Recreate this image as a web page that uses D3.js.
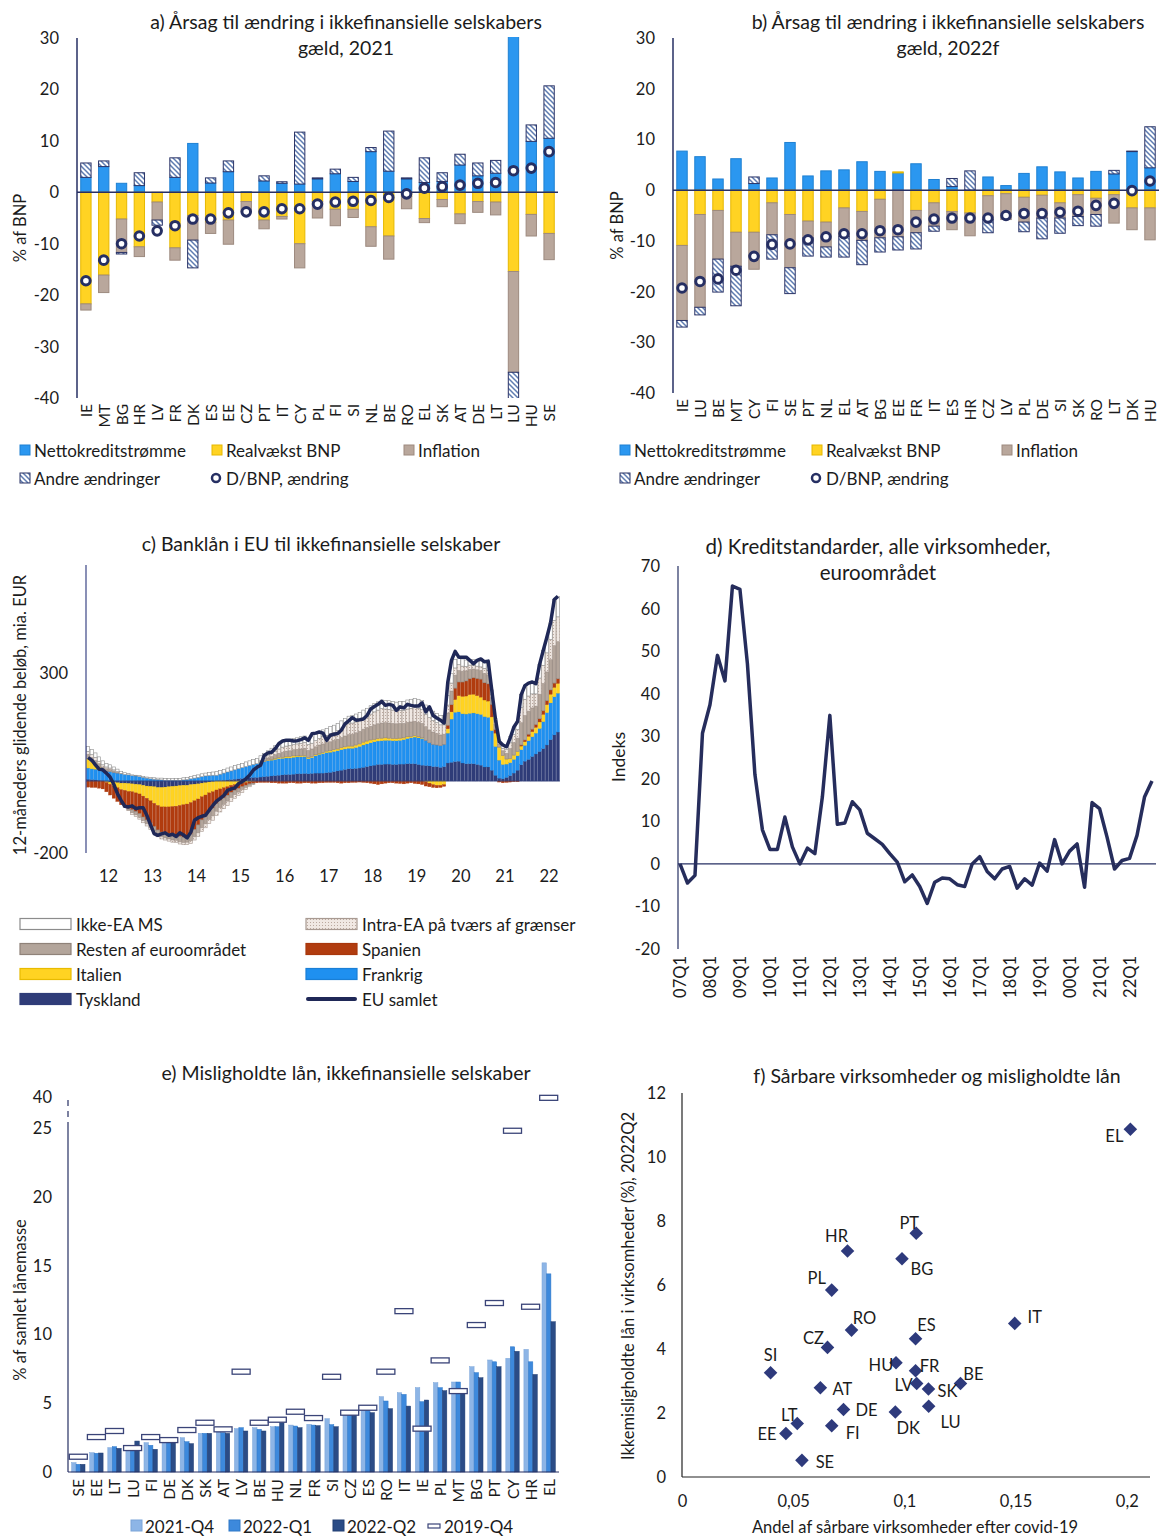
<!DOCTYPE html>
<html lang="da">
<head>
<meta charset="utf-8">
<title>Ikkefinansielle selskaber</title>
<script src="https://cdn.jsdelivr.net/npm/d3@7/dist/d3.min.js"></script>
<style>
  body { margin: 0; background: #fff; }
  svg text { font-family: Lato, "Open Sans", "DejaVu Sans", sans-serif; fill: #1b1b1b; }
</style>
</head>
<body>
<svg id="chart" width="1162" height="1539"></svg>
<script>
// ---------- a) decomposition 2021 ----------
const countriesA = ['IE','MT','BG','HR','LV','FR','DK','ES','EE','CZ','PT','IT','CY','PL','FI','SI','NL','BE','RO','EL','SK','AT','DE','LT','LU','HU','SE'];
const nettoA = [2.9,5.0,1.75,1.3,0,2.9,9.5,1.8,4.0,0.1,2.2,1.75,1.6,2.6,3.6,2.1,7.9,4.1,2.6,1.9,2.1,5.3,3.2,3.7,31,9.9,10.5];
const realA  = [-21.7,-16.1,-5.2,-10.6,-1.9,-10.8,-4.5,-5.9,-5.4,-1.8,-5.4,-4.7,-10.0,-1.8,-3.3,-3.3,-6.7,-8.5,-0.8,-5.1,-1.4,-4.2,-1.8,-1.9,-15.4,-4.3,-8.0];
const inflA  = [-1.2,-3.4,-6.5,-1.9,-3.5,-2.4,-4.8,-2.1,-4.7,-2.0,-1.7,-0.5,-4.7,-3.2,-3.2,-1.6,-3.8,-4.5,-2.4,-0.8,-1.4,-1.9,-2.1,-2.5,-19.6,-4.2,-5.1];
const andreA = [2.8,1.1,-0.3,2.5,-1.0,3.8,-5.4,1.0,2.1,0,1.0,0.3,10.1,0.2,0.9,0.8,0.8,7.8,0.2,4.8,1.7,2.1,2.5,2.5,-6,3.2,10.2];
const dgdpA  = [-17.2,-13.2,-10.0,-8.5,-7.5,-6.5,-5.2,-5.2,-4.0,-3.8,-3.8,-3.2,-3.2,-2.3,-1.9,-1.75,-1.6,-1.0,-0.3,0.8,1.1,1.4,1.75,1.9,4.2,4.7,7.9];

// ---------- b) decomposition 2022f ----------
const countriesB = ['IE','LU','BE','MT','CY','FI','SE','PT','NL','EL','AT','BG','EE','FR','IT','ES','HR','CZ','LV','PL','DE','SI','SK','RO','LT','DK','HU'];
const nettoB = [7.7,6.6,2.2,6.2,1.3,2.4,9.4,2.8,3.8,4.0,5.6,3.7,3.4,5.2,2.1,0.7,0,2.6,0.9,3.3,4.6,3.6,2.4,3.7,3.2,7.6,4.4];
const realB  = [-10.9,-4.8,-4.0,-8.3,-8.3,-2.5,-4.8,-6.1,-6.3,-3.5,-4.2,-1.8,0.2,-4.0,-2.5,-4.2,-4.5,-1.1,-0.7,-1.4,-1.0,-2.5,-0.9,-1.6,-0.9,-3.5,-3.5];
const inflB  = [-14.8,-18.3,-9.6,-6.7,-7.3,-6.3,-10.5,-3.3,-4.9,-5.6,-5.7,-7.6,-9.2,-4.4,-4.6,-3.6,-4.5,-4.7,-5.1,-4.9,-4.5,-3.0,-4.3,-3.2,-5.6,-4.3,-6.3];
const andreB = [-1.3,-1.5,-6.5,-7.8,1.3,-4.8,-5.1,-3.6,-2.0,-4.1,-4.8,-2.8,-2.6,-3.2,-1.0,1.6,3.8,-2.6,0,-1.9,-4.1,-3.0,-1.8,-2.3,0.7,0.1,8.1];
const dgdpB  = [-19.3,-18.0,-17.5,-15.8,-13.05,-10.7,-10.6,-9.8,-9.2,-8.6,-8.6,-8.0,-7.8,-6.3,-5.7,-5.5,-5.5,-5.5,-5.0,-4.6,-4.6,-4.35,-4.15,-3.0,-2.6,-0.1,1.8];
const decompTicks = [-40,-30,-20,-10,0,10,20,30];

// ---------- c) bank loans, 12-month flows, Jan 2012 - Sep 2022 ----------
const yearLabelsC = ['12','13','14','15','16','17','18','19','20','21','22'];
const tysklandC = [
  5,4,3,2,0,-2,-3,-4,-5,-6,-6,-7,
  -8,-9,-10,-12,-14,-15,-16,-18,-18,-17,-16,-15,
  -14,-13,-12,-12,-10,-9,-8,-6,-5,-3,-2,0,
  1,2,3,4,5,6,7,8,9,10,10,11,
  12,13,14,15,16,17,18,18,19,20,20,21,
  20,21,22,22,22,23,24,26,28,30,32,34,
  34,35,36,38,40,42,44,46,46,47,47,46,
  46,47,47,48,48,48,46,44,43,42,40,40,
  38,40,50,52,54,55,50,48,48,48,46,44,
  39,39,30,16,8,6,10,15,22,30,45,55,
  60,68,75,82,90,100,115,128,136];
const frankrigC = [
  31,30,30,29,28,27,26,24,22,20,18,17,
  15,14,12,10,8,6,5,4,3,2,2,2,
  2,2,3,4,6,8,10,12,14,15,16,16,
  18,20,22,24,26,28,30,32,34,36,38,40,
  42,43,44,45,46,46,46,46,47,47,47,47,
  42,44,48,52,54,56,56,56,56,57,57,57,
  57,58,60,62,63,64,65,65,66,66,66,66,
  66,66,68,70,72,74,74,74,70,64,62,60,
  60,62,83,120,137,137,137,138,140,141,141,141,
  140,138,110,80,50,40,37,36,38,40,42,44,
  52,55,58,64,75,90,102,106,108];
const italienC = [
  26,20,14,8,3,-2,-6,-10,-14,-18,-20,-22,
  -22,-24,-26,-30,-34,-40,-46,-50,-54,-55,-56,-56,
  -56,-55,-54,-52,-50,-46,-42,-38,-34,-30,-28,-25,
  -22,-19,-16,-12,-10,-8,-6,-4,-2,-1,0,1,
  1,2,2,3,3,3,4,4,4,3,3,3,
  3,3,3,3,3,4,4,5,5,6,6,6,
  6,7,7,8,8,8,7,7,7,7,6,6,
  6,6,5,5,4,4,3,2,-2,-6,-10,-12,
  -12,-10,12,20,35,45,48,50,52,52,50,48,
  46,45,38,37,36,25,14,12,12,12,10,10,
  12,14,16,18,20,22,24,26,27];
const spanienC = [
  -17,-18,-18,-20,-22,-26,-30,-34,-38,-42,-45,-48,
  -50,-52,-55,-58,-60,-62,-65,-68,-70,-72,-75,-78,
  -80,-86,-90,-90,-88,-80,-72,-64,-58,-52,-45,-38,
  -32,-28,-24,-20,-16,-13,-10,-8,-6,-5,-5,-4,
  -4,-4,-5,-5,-6,-6,-6,-5,-5,-6,-6,-5,
  -5,-6,-6,-5,-5,-4,-4,-4,-5,-6,-5,-5,
  -4,-4,-3,-4,-5,-6,-8,-10,-8,-6,-5,-5,
  -6,-7,-8,-6,-5,-7,-8,-10,-12,-10,-8,-7,
  -6,-5,10,20,32,38,40,42,44,46,48,50,
  48,48,35,10,-3,-5,-4,-3,-2,-2,3,5,
  6,7,8,9,10,11,12,12,13];
const restenC = [
  12,11,10,9,8,7,6,4,2,0,-2,-4,
  -8,-9,-10,-10,-11,-12,-12,-13,-13,-14,-14,-15,
  -15,-15,-15,-16,-18,-20,-22,-22,-22,-22,-22,-21,
  -20,-18,-16,-14,-12,-10,-8,-6,-4,-2,0,2,
  4,6,8,10,12,14,15,16,17,18,19,20,
  20,21,22,23,24,24,25,26,27,28,30,32,
  33,34,35,36,37,38,40,41,42,42,42,42,
  41,41,40,40,40,40,40,40,38,36,34,32,
  30,28,34,38,36,32,30,28,26,24,24,24,
  26,25,18,14,9,13,16,27,35,37,62,68,
  64,59,51,68,76,80,84,104,103];
const intraC = [
  8,8,8,7,6,5,4,3,2,1,0,-1,
  -5,-5,-5,-6,-6,-6,-6,-6,-6,-6,-6,-6,
  -6,-6,-6,-6,-8,-9,-10,-10,-11,-11,-12,-12,
  -12,-12,-12,-11,-10,-9,-8,-6,-4,-2,0,2,
  4,6,8,10,12,14,14,14,14,15,16,16,
  16,16,17,18,20,20,22,22,24,26,28,30,
  31,30,30,31,32,34,36,38,40,38,38,37,
  36,36,36,37,38,38,38,38,34,34,32,30,
  28,26,22,22,20,16,14,12,12,10,10,10,
  14,13,10,7,4,7,10,16,22,24,42,45,
  42,39,34,45,50,53,56,70,69];
const ikkeC = [
  14,14,13,12,11,10,9,8,7,6,5,4,
  2,2,3,3,3,4,4,4,5,5,5,5,
  5,5,6,6,6,7,7,8,8,9,9,10,
  10,10,11,11,12,12,12,13,13,14,14,14,
  14,14,15,15,16,16,16,17,17,17,18,18,
  18,18,18,19,19,19,20,20,20,20,21,21,
  21,22,22,22,22,23,23,23,24,24,24,24,
  24,25,25,25,25,25,26,26,26,26,26,26,
  26,26,26,26,24,22,20,18,16,16,16,16,
  18,18,12,9,7,10,12,17,21,22,36,38,
  36,33,28,38,42,44,47,58,57];
const euSamletC = [
  65,58,45,33,31,22,11,-9,-35,-54,-70,-72,
  -69,-77,-74,-74,-95,-121,-146,-151,-147,-144,-151,-148,
  -154,-144,-150,-158,-142,-109,-102,-98,-95,-81,-68,-56,
  -48,-40,-26,-22,-19,-7,-2,6,16,30,38,44,
  71,78,80,90,104,111,113,113,111,112,115,120,
  113,131,133,136,133,113,127,130,132,141,159,167,
  176,169,170,172,182,200,207,213,221,210,213,210,
  196,206,203,213,210,208,208,217,192,206,182,175,
  169,161,275,335,360,344,344,344,335,326,335,339,
  331,333,250,170,110,100,95,120,150,165,240,265,
  272,275,270,324,363,400,440,504,513];

// ---------- d) credit standards, quarterly 07Q1 - 22Q4 ----------
const yearLabelsD = ['07','08','09','10','11','12','13','14','15','16','17','18','19','00','21','22'];
const kreditD = [0,-4.5,-2.7,30.7,37.4,49,43,65.3,64.5,47,21,8,3.4,3.4,11,4,0,3.7,2.4,15.7,34.9,9.3,9.6,14.6,
  12.7,7.2,5.9,4.6,2.4,0.4,-4.2,-2.6,-5.3,-9.3,-4.3,-3.3,-3.5,-4.9,-5.3,0,1.7,-1.8,-3.5,-1.2,-0.6,-5.7,-3.5,-5,
  0.2,-1.7,5.7,0,3,4.7,-5.5,14.4,13,6.3,-1.2,0.8,1.3,6.7,15.7,19.5];
const ticksD = [-20,-10,0,10,20,30,40,50,60,70];

// ---------- e) NPL ratios ----------
const countriesE = ['SE','EE','LT','LU','FI','DE','DK','SK','AT','LV','BE','HU','NL','FR','SI','CZ','ES','RO','IT','IE','PL','MT','BG','PT','CY','HR','EL'];
const npl21Q4 = [0.68,1.40,1.77,1.89,2.13,2.18,2.49,2.81,2.91,3.15,3.22,3.29,3.41,3.46,3.87,4.31,4.72,5.47,5.76,6.13,6.49,6.54,7.65,8.14,8.26,8.91,15.2];
const npl22Q1 = [0.56,1.36,1.84,1.94,1.94,2.18,2.20,2.81,2.86,3.22,3.10,3.29,3.34,3.41,3.44,4.26,4.67,5.16,5.64,5.11,6.13,6.54,7.22,8.01,9.10,8.01,14.4];
const npl22Q2 = [0.56,1.38,1.72,2.25,1.65,2.13,2.06,2.81,2.81,2.98,2.98,3.58,3.22,3.37,3.29,4.19,4.31,4.60,4.79,5.23,5.91,5.88,6.85,7.65,8.77,7.09,10.92];
const npl19Q4 = [1.11,2.54,2.98,1.74,2.54,2.32,3.05,3.58,3.10,7.29,3.58,3.80,4.38,3.92,6.92,4.31,4.67,7.29,11.69,3.15,8.11,5.88,10.68,12.28,24.8,12.01,39.6];
const ticksE = [0,5,10,15,20,25,40];

// ---------- f) vulnerable firms vs NPL ----------
const countriesF = ['EL','PT','HR','BG','PL','RO','ES','IT','CZ','SI','HU','FR','LV','SK','BE','AT','DE','DK','LU','LT','FI','EE','SE'];
const vulnF = [0.2014,0.1051,0.0742,0.0987,0.0671,0.076,0.1048,0.1494,0.0652,0.0396,0.096,0.1048,0.1053,0.1106,0.125,0.062,0.0724,0.0957,0.1107,0.0516,0.0671,0.0465,0.0537];
const nplF = [10.87,7.62,7.06,6.82,5.84,4.59,4.32,4.80,4.05,3.26,3.57,3.32,2.92,2.75,2.92,2.79,2.11,2.03,2.21,1.67,1.60,1.36,0.52];

// label placement next to each diamond (dx, dy)
const labelOffsetF = {
  EL:[-16,7], PT:[-7,-10], HR:[-11,-15], BG:[20,10], PL:[-15,-12], RO:[13,-12], ES:[11,-14], IT:[20,-6],
  CZ:[-14,-9], SI:[0,-18], HU:[-15,2], FR:[14,-5], LV:[-13,1], SK:[19,2], BE:[13,-10], AT:[22,1],
  DE:[23,1], DK:[13,16], LU:[22,16], LT:[-8,-9], FI:[21,7], EE:[-19,1], SE:[23,2]
};

const NAVY = '#262f63';
const FS_TITLE = 19.5, FS_TICK = 16.5, FS_LEG = 17, FS_CAT = 15.5, FS_AXIS = 16.5;
const svg = d3.select('#chart');
const defs = svg.append('defs');

// hatched fill for "Andre ændringer"
const hatch = defs.append('pattern').attr('id', 'hatch')
  .attr('patternUnits', 'userSpaceOnUse').attr('width', 5).attr('height', 5);
hatch.append('rect').attr('width', 5).attr('height', 5).attr('fill', '#fff');
hatch.append('path').attr('d', 'M-1,-1L6,6M-1,4L1,6M4,-1L6,1')
  .attr('stroke', '#5f7db2').attr('stroke-width', 1.5);

// fine dotted fill for intra-EA
const dots = defs.append('pattern').attr('id', 'dots')
  .attr('patternUnits', 'userSpaceOnUse').attr('width', 3).attr('height', 3);
dots.append('rect').attr('width', 3).attr('height', 3).attr('fill', '#f0e8e3');
dots.append('rect').attr('x', 1).attr('y', 1).attr('width', 1).attr('height', 1).attr('fill', '#bba99f');

const addText = (g, x, y, str, opts = {}) => {
  const t = g.append('text').attr('x', x).attr('y', y).text(str)
    .attr('font-size', opts.size || FS_TICK)
    .attr('text-anchor', opts.anchor || 'start')
    .attr('dominant-baseline', opts.baseline || 'central');
  if (opts.rotate) t.attr('transform', `rotate(${opts.rotate},${x},${y})`);
  return t;
};

// ---------- panels a) and b) ----------
const decompKeys = ['netto', 'real', 'infl', 'andre'];
const decompFill = { netto: '#2b97f0', real: '#ffd323', infl: '#b9a79c', andre: 'url(#hatch)' };
const decompStroke = { netto: '#1f80d2', real: '#e6b800', infl: '#9d8a7f', andre: '#2b3467' };

const drawDecomp = (cfg) => {
  const { countries, netto, real, infl, andre, dgdp, left, right, top, bottom } = cfg;
  const g = svg.append('g');
  const x = d3.scaleBand().domain(countries).range([left, right]).paddingInner(0.42).paddingOuter(0.21);
  const y = d3.scaleLinear().domain([-40, 30]).range([bottom, top]);
  const rows = countries.map((c, i) => ({ c, netto: netto[i], real: real[i], infl: infl[i], andre: andre[i] }));
  const series = d3.stack().keys(decompKeys).offset(d3.stackOffsetDiverging)(rows);

  const clipId = 'clip' + left;
  defs.append('clipPath').attr('id', clipId).append('rect')
    .attr('x', left).attr('y', top - 1).attr('width', right - left + 6).attr('height', bottom - top + 1);

  g.append('g').attr('clip-path', `url(#${clipId})`)
    .selectAll('g').data(series).join('g')
    .attr('fill', s => decompFill[s.key]).attr('stroke', s => decompStroke[s.key]).attr('stroke-width', 1)
    .selectAll('rect').data(s => s.filter(d => d[1] !== d[0])).join('rect')
    .attr('x', d => x(d.data.c)).attr('width', x.bandwidth())
    .attr('y', d => y(Math.max(d[0], d[1])))
    .attr('height', d => Math.abs(y(d[0]) - y(d[1])));

  // axes
  g.append('line').attr('x1', left).attr('x2', left).attr('y1', top).attr('y2', bottom)
    .attr('stroke', NAVY).attr('stroke-width', 1.5);
  g.append('line').attr('x1', left).attr('x2', right).attr('y1', y(0)).attr('y2', y(0))
    .attr('stroke', NAVY).attr('stroke-width', 1.5);
  decompTicks.forEach(t => addText(g, left - 18, y(t), t, { anchor: 'end' }));

  // D/BNP markers
  g.selectAll('circle').data(dgdp).join('circle')
    .attr('cx', (d, i) => x(countries[i]) + x.bandwidth() / 2).attr('cy', d => y(d))
    .attr('r', 4.3).attr('fill', '#fff').attr('stroke', NAVY).attr('stroke-width', 3);

  countries.forEach(c => addText(g, x(c) + x.bandwidth() / 2, bottom + 6, c,
    { anchor: 'end', size: FS_CAT, rotate: -90 }));

  cfg.title.forEach((line, i) => addText(g, cfg.titleX, 21 + i * 26, line, { anchor: 'middle', size: FS_TITLE }));
  addText(g, cfg.ylabX, (top + bottom) / 2 + 10, '% af BNP', { anchor: 'middle', size: FS_AXIS, rotate: -90 });

  // legend
  const [lx1, lx2, lx3] = cfg.legendX;
  const leg = [
    { x: lx1, y: 450, label: 'Nettokreditstrømme', key: 'netto' },
    { x: lx2, y: 450, label: 'Realvækst BNP', key: 'real' },
    { x: lx3, y: 450, label: 'Inflation', key: 'infl' },
    { x: lx1, y: 478, label: 'Andre ændringer', key: 'andre' }
  ];
  leg.forEach(l => {
    g.append('rect').attr('x', l.x).attr('y', l.y - 5).attr('width', 10).attr('height', 10)
      .attr('fill', decompFill[l.key]).attr('stroke', decompStroke[l.key]).attr('stroke-width', 1);
    addText(g, l.x + 14, l.y, l.label, { size: FS_LEG });
  });
  g.append('circle').attr('cx', lx2 + 4).attr('cy', 478).attr('r', 4)
    .attr('fill', '#fff').attr('stroke', NAVY).attr('stroke-width', 2.5);
  addText(g, lx2 + 14, 478, 'D/BNP, ændring', { size: FS_LEG });
};

drawDecomp({
  countries: countriesA, netto: nettoA, real: realA, infl: inflA, andre: andreA, dgdp: dgdpA,
  left: 77, right: 558, top: 38, bottom: 398, titleX: 346, ylabX: 20, legendX: [20, 212, 404],
  title: ['a) Årsag til ændring i ikkefinansielle selskabers', 'gæld, 2021']
});
drawDecomp({
  countries: countriesB, netto: nettoB, real: realB, infl: inflB, andre: andreB, dgdp: dgdpB,
  left: 673, right: 1159, top: 38, bottom: 393, titleX: 948, ylabX: 617, legendX: [620, 812, 1002],
  title: ['b) Årsag til ændring i ikkefinansielle selskabers', 'gæld, 2022f']
});

// ---------- panel c) ----------
(() => {
  const g = svg.append('g');
  const months = d3.timeMonth.range(new Date(2012, 0, 1), new Date(2022, 9, 1));
  const keysC = ['tyskland', 'frankrig', 'italien', 'spanien', 'resten', 'intra', 'ikke'];
  const fillC = { tyskland: '#2f3c78', frankrig: '#1f90f0', italien: '#ffd322', spanien: '#b13c0f',
    resten: '#b3a59b', intra: 'url(#dots)', ikke: '#ffffff' };
  const strokeC = { tyskland: '#2f3c78', frankrig: '#1a7fd6', italien: '#e8bb00', spanien: '#a8370c',
    resten: '#8f8279', intra: '#a89a92', ikke: '#8c8c8c' };
  const rows = months.map((m, i) => ({ i, tyskland: tysklandC[i], frankrig: frankrigC[i], italien: italienC[i],
    spanien: spanienC[i], resten: restenC[i], intra: intraC[i], ikke: ikkeC[i] }));
  const series = d3.stack().keys(keysC).offset(d3.stackOffsetDiverging)(rows);

  const x = d3.scaleBand().domain(d3.range(months.length)).range([86, 560]).padding(0.12);
  const y = d3.scaleLinear().domain([-200, 600]).range([853, 565]);

  g.selectAll('g.s').data(series).join('g').attr('class', 's')
    .attr('fill', s => fillC[s.key]).attr('stroke', s => strokeC[s.key])
    .attr('stroke-width', s => (s.key === 'resten' || s.key === 'intra' || s.key === 'ikke') ? 0.6 : 0.3)
    .selectAll('rect').data(s => s.filter(d => d[1] !== d[0])).join('rect')
    .attr('x', d => x(d.data.i)).attr('width', x.bandwidth())
    .attr('y', d => y(Math.max(d[0], d[1])))
    .attr('height', d => Math.abs(y(d[0]) - y(d[1])));

  g.append('line').attr('x1', 86).attr('x2', 560).attr('y1', y(0)).attr('y2', y(0))
    .attr('stroke', '#34407a').attr('stroke-width', 0.8);

  g.append('path').datum(euSamletC)
    .attr('d', d3.line().x((d, i) => x(i) + x.bandwidth() / 2).y(d => y(d)))
    .attr('fill', 'none').attr('stroke', '#1f2857').attr('stroke-width', 3.5)
    .attr('stroke-linejoin', 'round');

  g.append('line').attr('x1', 86).attr('x2', 86).attr('y1', 565).attr('y2', 853)
    .attr('stroke', '#3b4585').attr('stroke-width', 1.2);
  [300, -200].forEach(t => addText(g, 68, y(t), t, { anchor: 'end' }));
  yearLabelsC.forEach((lab, k) => addText(g, x(k * 12 + 6), 876, lab, { anchor: 'middle' }));

  addText(g, 321, 543, 'c) Banklån i EU til ikkefinansielle selskaber', { anchor: 'middle', size: FS_TITLE });
  addText(g, 20, 715, '12-måneders glidende beløb, mia. EUR', { anchor: 'middle', size: FS_AXIS, rotate: -90 });

  const legC = [
    { x: 20, y: 924, key: 'ikke', label: 'Ikke-EA MS' },
    { x: 20, y: 949, key: 'resten', label: 'Resten af euroområdet' },
    { x: 20, y: 974, key: 'italien', label: 'Italien' },
    { x: 20, y: 999, key: 'tyskland', label: 'Tyskland' },
    { x: 306, y: 924, key: 'intra', label: 'Intra-EA på tværs af grænser' },
    { x: 306, y: 949, key: 'spanien', label: 'Spanien' },
    { x: 306, y: 974, key: 'frankrig', label: 'Frankrig' }
  ];
  legC.forEach(l => {
    g.append('rect').attr('x', l.x).attr('y', l.y - 5.5).attr('width', 51).attr('height', 11)
      .attr('fill', fillC[l.key]).attr('stroke', strokeC[l.key]).attr('stroke-width', 1.2);
    addText(g, l.x + 56, l.y, l.label, { size: FS_LEG });
  });
  g.append('line').attr('x1', 308).attr('x2', 355).attr('y1', 999).attr('y2', 999)
    .attr('stroke', '#1f2857').attr('stroke-width', 4).attr('stroke-linecap', 'round');
  addText(g, 362, 999, 'EU samlet', { size: FS_LEG });
})();

// ---------- panel d) ----------
(() => {
  const g = svg.append('g');
  const quarters = yearLabelsD.flatMap(yy => ['Q1', 'Q2', 'Q3', 'Q4'].map(q => yy + q));
  const x = d3.scalePoint().domain(quarters).range([680, 1152]);
  const y = d3.scaleLinear().domain([-20, 70]).range([949, 566]);

  g.append('line').attr('x1', 678).attr('x2', 678).attr('y1', 566).attr('y2', 949)
    .attr('stroke', NAVY).attr('stroke-width', 1.2);
  g.append('line').attr('x1', 678).attr('x2', 1156).attr('y1', y(0)).attr('y2', y(0))
    .attr('stroke', NAVY).attr('stroke-width', 1.2);
  ticksD.forEach(t => addText(g, 660, y(t), t, { anchor: 'end' }));

  g.append('path').datum(kreditD)
    .attr('d', d3.line().x((d, i) => x(quarters[i])).y(d => y(d)))
    .attr('fill', 'none').attr('stroke', '#262d5c').attr('stroke-width', 3.5).attr('stroke-linejoin', 'round');

  quarters.filter(q => q.endsWith('Q1'))
    .forEach(q => addText(g, x(q), 956, q, { anchor: 'end', size: 16.5, rotate: -90 }));

  addText(g, 878, 546, 'd) Kreditstandarder, alle virksomheder,', { anchor: 'middle', size: 20.5 });
  addText(g, 878, 572, 'euroområdet', { anchor: 'middle', size: 20.5 });
  addText(g, 618, 757, 'Indeks', { anchor: 'middle', size: 17.5, rotate: -90 });
})();

// ---------- panel e) ----------
(() => {
  const g = svg.append('g');
  const seriesKeys = ['q421', 'q122', 'q222'];
  const fillE = { q421: '#8db5e6', q122: '#3d89dc', q222: '#2b4c86' };
  const strokeE = { q421: '#7aa4d8', q122: '#2f78c8', q222: '#223f73' };
  const vals = { q421: npl21Q4, q122: npl22Q1, q222: npl22Q2 };

  const x = d3.scaleBand().domain(countriesE).range([68, 559]).paddingInner(0.26).paddingOuter(0.2);
  const xi = d3.scaleBand().domain(seriesKeys).range([0, x.bandwidth()]);
  const y = d3.scaleLinear().domain([0, 25, 40]).range([1472, 1128, 1097]);

  seriesKeys.forEach(k => {
    g.append('g').attr('fill', fillE[k]).attr('stroke', strokeE[k]).attr('stroke-width', 0.5)
      .selectAll('rect').data(vals[k]).join('rect')
      .attr('x', (d, i) => x(countriesE[i]) + xi(k)).attr('width', xi.bandwidth())
      .attr('y', d => y(d)).attr('height', d => y(0) - y(d));
  });

  // 2019-Q4 markers
  g.append('g').selectAll('rect').data(npl19Q4).join('rect')
    .attr('x', (d, i) => x(countriesE[i]) + x.bandwidth() / 2 - 9).attr('width', 18)
    .attr('y', d => y(d) - 2.5).attr('height', 5)
    .attr('fill', '#fff').attr('stroke', '#3a4478').attr('stroke-width', 1.3);

  // axes with a broken segment between 25 and 40
  g.append('line').attr('x1', 68).attr('x2', 68).attr('y1', y(0)).attr('y2', y(25))
    .attr('stroke', NAVY).attr('stroke-width', 1.2);
  g.append('line').attr('x1', 68).attr('x2', 68).attr('y1', y(25)).attr('y2', y(40))
    .attr('stroke', NAVY).attr('stroke-width', 1.2).attr('stroke-dasharray', '6,5');
  g.append('line').attr('x1', 68).attr('x2', 559).attr('y1', y(0)).attr('y2', y(0))
    .attr('stroke', NAVY).attr('stroke-width', 1.2);
  ticksE.forEach(t => addText(g, 52, y(t), t, { anchor: 'end' }));

  countriesE.forEach(c => addText(g, x(c) + x.bandwidth() / 2, 1479, c,
    { anchor: 'end', size: FS_CAT, rotate: -90 }));

  addText(g, 346, 1072, 'e) Misligholdte lån, ikkefinansielle selskaber', { anchor: 'middle', size: FS_TITLE });
  addText(g, 20, 1300, '% af samlet lånemasse', { anchor: 'middle', size: FS_AXIS, rotate: -90 });

  const legE = [
    { x: 131, key: 'q421', label: '2021-Q4' },
    { x: 229, key: 'q122', label: '2022-Q1' },
    { x: 333, key: 'q222', label: '2022-Q2' }
  ];
  legE.forEach(l => {
    g.append('rect').attr('x', l.x).attr('y', 1520).attr('width', 11).attr('height', 11)
      .attr('fill', fillE[l.key]).attr('stroke', strokeE[l.key]);
    addText(g, l.x + 14, 1526, l.label, { size: FS_LEG });
  });
  g.append('rect').attr('x', 428).attr('y', 1524).attr('width', 12).attr('height', 4)
    .attr('fill', '#fff').attr('stroke', '#3a4478').attr('stroke-width', 1.2);
  addText(g, 444, 1526, '2019-Q4', { size: FS_LEG });
})();

// ---------- panel f) ----------
(() => {
  const g = svg.append('g');
  const x = d3.scaleLinear().domain([0, 0.21]).range([682.5, 1149.5]);
  const y = d3.scaleLinear().domain([0, 12]).range([1477, 1093]);

  g.append('line').attr('x1', 682).attr('x2', 682).attr('y1', 1093).attr('y2', 1477)
    .attr('stroke', '#222').attr('stroke-width', 1.2);
  g.append('line').attr('x1', 682).attr('x2', 1150).attr('y1', 1477).attr('y2', 1477)
    .attr('stroke', '#222').attr('stroke-width', 1.2);
  d3.range(0, 13, 2).forEach(t => addText(g, 666, y(t), t, { anchor: 'end' }));
  [0, 0.05, 0.1, 0.15, 0.2].forEach(t =>
    addText(g, x(t), 1501, String(t).replace('.', ','), { anchor: 'middle' }));

  const diamond = d3.symbol().type(d3.symbolSquare).size(92);
  g.selectAll('path.pt').data(countriesF).join('path').attr('class', 'pt')
    .attr('d', diamond)
    .attr('transform', (c, i) => `translate(${x(vulnF[i])},${y(nplF[i])}) rotate(45)`)
    .attr('fill', '#2e3a7c');
  countriesF.forEach((c, i) => {
    const [dx, dy] = labelOffsetF[c];
    addText(g, x(vulnF[i]) + dx, y(nplF[i]) + dy, c, { anchor: 'middle', size: 16.5 });
  });

  addText(g, 937, 1075, 'f) Sårbare virksomheder og misligholdte lån', { anchor: 'middle', size: FS_TITLE });
  addText(g, 915, 1527, 'Andel af sårbare virksomheder efter covid-19', { anchor: 'middle', size: FS_AXIS });
  addText(g, 628, 1286, 'Ikkemisligholdte lån i virksomheder (%), 2022Q2', { anchor: 'middle', size: FS_AXIS, rotate: -90 });
})();
</script>
</body>
</html>
